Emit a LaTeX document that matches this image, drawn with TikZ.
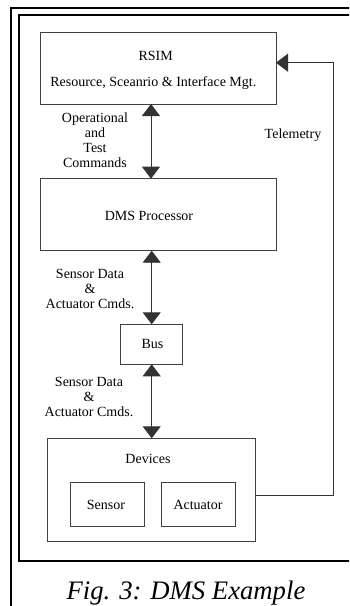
\documentclass[tikz,border=0pt]{standalone}
\usepackage{fontspec}
\setmainfont{Liberation Serif}
\usetikzlibrary{arrows.meta}
\begin{document}
\begin{tikzpicture}[x=1pt,y=-1pt,
  box/.style={draw=black!75, line width=0.9pt, inner sep=0pt, outer sep=0pt},
  frame/.style={draw=black, line width=2pt},
  lbl/.style={font=\fontsize{14}{14.7}\selectfont, inner sep=0pt, anchor=base, align=center},
  conn/.style={draw=black!80, line width=0.9pt},
  bi/.style={conn, {Triangle[width=18pt,length=12pt]}-{Triangle[width=18pt,length=12pt]}},
]
\useasboundingbox (0,0) rectangle (349,606);
\clip (0,0) rectangle (349,606);
% frames
\draw[frame] (11,620) -- (11,8) -- (360,8);
\draw[frame] (360,560.5) -- (19,560.5) -- (19,14.5) -- (360,14.5);
% boxes
\node[box, minimum width=236pt, minimum height=71.5pt] (rsim) at (158,68.25) {};
\node[box, minimum width=236pt, minimum height=72pt] (dms) at (158,214.7) {};
\node[box, minimum width=62pt, minimum height=40pt] (bus) at (151.7,344.3) {};
\node[box, minimum width=208pt, minimum height=102.7pt] (dev) at (151.7,489.65) {};
\node[box, minimum width=73.7pt, minimum height=43.7pt] (sen) at (107.15,504.15) {};
\node[box, minimum width=73.3pt, minimum height=43.7pt] (act) at (198.35,504.15) {};
% texts
\node[lbl] (trsim) at (155.7,60) {RSIM};
\node[lbl] (trsim2) at (153.3,86) {Resource, Sceanrio \& Interface Mgt.};
\node[lbl] (tdms) at (149,220) {DMS Processor};
\node[lbl] (tbus) at (152.5,348.3) {Bus};
\node[lbl] (tdev) at (148,463.3) {Devices};
\node[lbl] (tsen) at (106,509.3) {Sensor};
\node[lbl] (tact) at (198,509.3) {Actuator};
\node[lbl] (ttel) at (293,138.3) {Telemetry};
\node[lbl] (top1) at (95,167) {Operational\\and\\Test\\Commands};
\node[lbl] (sd1) at (90,308) {Sensor Data\\\&\\Actuator Cmds.};
\node[lbl] (sd2) at (89,416) {Sensor Data\\\&\\Actuator Cmds.};
\node[font=\fontsize{26.7}{30}\selectfont\itshape, anchor=base, inner sep=0pt] (cap) at (186,599) {Fig. 3: DMS Example};
% connectors
\coordinate (x1) at (151,0);
\coordinate (x2) at (151.7,0);
\draw[bi] (rsim.south -| x1) -- (dms.north -| x1);
\draw[bi] (dms.south -| x2) -- (bus.north -| x2);
\draw[bi] (bus.south -| x2) -- (dev.north -| x2);
\coordinate (t1) at (333.7,495.7);
\coordinate (t2) at (333.7,62.7);
\draw[conn, -{Triangle[width=18pt,length=12pt]}] (dev.east |- t1) -- (t1) -- (t2) -- (rsim.east |- t2);
\end{tikzpicture}
\end{document}
